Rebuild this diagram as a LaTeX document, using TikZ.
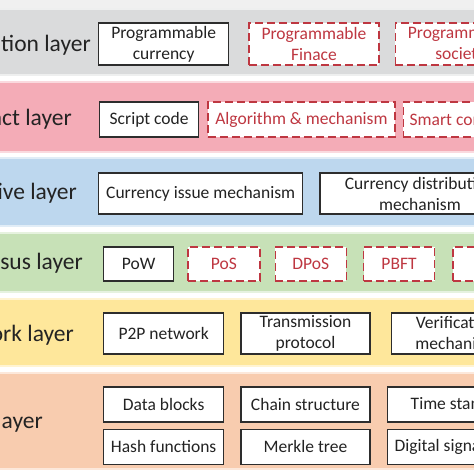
\documentclass[tikz,border=0pt]{standalone}
\usepackage{fontspec}
\setmainfont{Carlito}
\usetikzlibrary{positioning}
\definecolor{appgray}{RGB}{218,219,220}
\definecolor{conpink}{RGB}{244,172,183}
\definecolor{incblue}{RGB}{189,215,238}
\definecolor{cnsgreen}{RGB}{199,225,183}
\definecolor{netyellow}{RGB}{254,231,155}
\definecolor{datorange}{RGB}{248,204,175}
\definecolor{optred}{RGB}{190,55,65}
\definecolor{boxgray}{RGB}{45,45,45}
\definecolor{txtgray}{RGB}{35,35,35}
\tikzset{
  layer/.style={fill=#1,draw=#1!45,line width=2pt},
  blk/.style={draw=boxgray,line width=1.3pt,fill=white,align=center,inner sep=2pt,
              font=\fontsize{17.5}{21}\selectfont,text=txtgray},
  opt/.style={blk,draw=optred,text=optred,dash pattern=on 8pt off 4pt},
  lbl/.style={anchor=east,inner sep=0pt,font=\fontsize{23.5}{28}\selectfont,text=txtgray},
}
\begin{document}
\begin{tikzpicture}[x=1pt,y=-1pt]
  \useasboundingbox[fill=white] (0,0) rectangle (474,474);
  \clip (0,0) rectangle (474,474);
  \fill[black!6] (0,0) rectangle (474,8);
  % ===== layer bands =====
  \path[layer=appgray]   (-5,9)   rectangle (480,75);
  \path[layer=conpink]   (-5,82)  rectangle (480,152);
  \path[layer=incblue]   (-5,158) rectangle (480,226);
  \path[layer=cnsgreen]  (-5,233) rectangle (480,292);
  \path[layer=netyellow] (-5,299) rectangle (480,366);
  \path[layer=datorange] (-5,373) rectangle (480,469);

  % ===== Application layer =====
  \node[lbl] (appL) at (91,45) {Application layer};
  \node[blk,minimum width=130pt,minimum height=42pt,anchor=west] (appA) at (98,44) {Programmable\\currency};
  \node[opt,minimum width=130pt,minimum height=42pt,right=19pt of appA] (appB) {Programmable\\Finace};
  \node[opt,minimum width=130pt,minimum height=42pt,right=15pt of appB] (appC) {Programmable\\society};

  % ===== Contract layer =====
  \node[lbl] (conL) at (72,119) {Contract layer};
  \node[blk,minimum width=99pt,minimum height=35pt,anchor=west] (conA) at (99,119.5) {Script code};
  \node[opt,minimum width=187pt,minimum height=35pt,right=8pt of conA] (conB) {Algorithm \& mechanism};
  \node[opt,minimum width=118pt,minimum height=35pt,right=7pt of conB] (conC) {Smart contract};

  % ===== Incentive layer =====
  \node[lbl] (incL) at (77,193) {Incentive layer};
  \node[blk,minimum width=204pt,minimum height=41pt,anchor=west] (incA) at (98,193.5) {Currency issue mechanism};
  \node[blk,minimum width=200pt,minimum height=41pt,right=16pt of incA] (incB) {Currency distribution\\mechanism};

  % ===== Consensus layer =====
  \node[lbl] (cnsL) at (83,263) {Consensus layer};
  \node[blk,minimum width=70pt,minimum height=34pt,anchor=west] (cnsA) at (103,264) {PoW};
  \node[opt,minimum width=72pt,minimum height=34pt,right=13pt of cnsA] (cnsB) {PoS};
  \node[opt,minimum width=71pt,minimum height=34pt,right=14pt of cnsB] (cnsC) {DPoS};
  \node[opt,minimum width=71pt,minimum height=34pt,right=16pt of cnsC] (cnsD) {PBFT};
  \node[opt,minimum width=60pt,minimum height=34pt,right=17pt of cnsD] (cnsE) {...};

  % ===== Network layer =====
  \node[lbl] (netL) at (74,335) {Network layer};
  \node[blk,minimum width=120pt,minimum height=41pt,anchor=west] (netA) at (103,333.5) {P2P network};
  \node[blk,minimum width=129pt,minimum height=41pt,right=16pt of netA] (netB) {Transmission\\protocol};
  \node[blk,minimum width=130pt,minimum height=41pt,right=20pt of netB] (netC) {Verification\\mechanism};

  % ===== Data layer =====
  \node[lbl] (datL) at (43,422) {Data layer};
  \node[blk,minimum width=120pt,minimum height=35pt,anchor=west] (datA) at (103,404.5) {Data blocks};
  \node[blk,minimum width=129pt,minimum height=35pt,right=16pt of datA] (datB) {Chain structure};
  \node[blk,minimum width=130pt,minimum height=35pt,right=16pt of datB] (datC) {Time stamp};
  \node[blk,minimum width=120pt,minimum height=35pt,below=6pt of datA] (datD) {Hash functions};
  \node[blk,minimum width=129pt,minimum height=35pt,below=6pt of datB] (datE) {Merkle tree};
  \node[blk,minimum width=130pt,minimum height=35pt,below=6pt of datC] (datF) {Digital signature};
\end{tikzpicture}
\end{document}
